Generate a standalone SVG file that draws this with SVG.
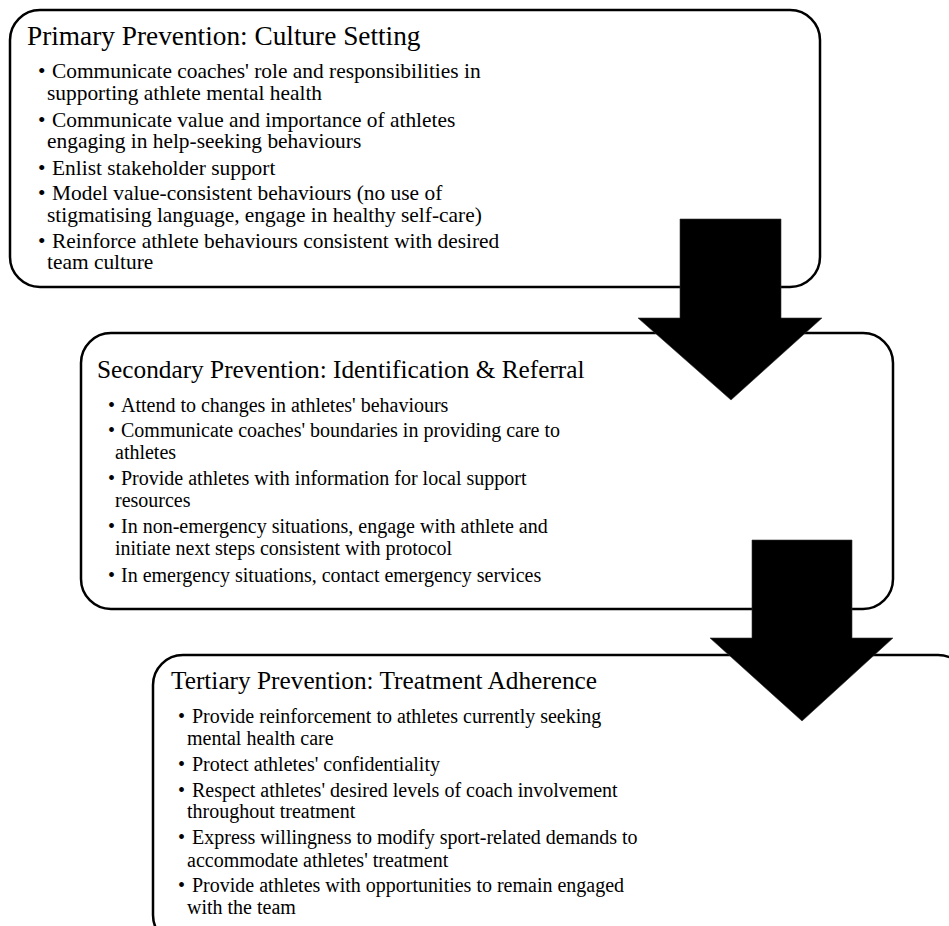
<svg xmlns="http://www.w3.org/2000/svg" width="949" height="926" viewBox="0 0 949 926">
<style>
.box{fill:#fff;stroke:#000;stroke-width:2.5}
.t{font-family:"Liberation Serif","Times New Roman",serif;fill:#000}
.h1{font-size:27.3px}
.b1{font-size:21.4px}
.h{font-size:25.3px}
.b{font-size:20px}
.arrow{fill:#000;stroke:#333;stroke-width:0.6}
</style>
<rect width="949" height="926" fill="#fff"/>
<g id="primary">
<rect class="box" x="10" y="10" width="810" height="277" rx="30" ry="30"/>
<text class="t h1" x="27" y="45">Primary Prevention: Culture Setting</text>
<g class="t b1">
<text x="38" y="78">•</text><text x="52" y="78">Communicate coaches' role and responsibilities in</text>
<text x="47" y="100">supporting athlete mental health</text>
<text x="38" y="127">•</text><text x="52" y="127">Communicate value and importance of athletes</text>
<text x="47" y="148">engaging in help-seeking behaviours</text>
<text x="38" y="175">•</text><text x="52" y="175">Enlist stakeholder support</text>
<text x="38" y="200">•</text><text x="52" y="200">Model value-consistent behaviours (no use of</text>
<text x="47" y="222">stigmatising language, engage in healthy self-care)</text>
<text x="38" y="248">•</text><text x="52" y="248">Reinforce athlete behaviours consistent with desired</text>
<text x="47" y="269">team culture</text>
</g>
</g>
<g id="secondary">
<rect class="box" x="81" y="333" width="812" height="276" rx="30" ry="30"/>
<text class="t h" x="97" y="378">Secondary Prevention: Identification &amp; Referral</text>
<g class="t b">
<text x="108" y="412">•</text><text x="121" y="412">Attend to changes in athletes' behaviours</text>
<text x="108" y="437">•</text><text x="121" y="437">Communicate coaches' boundaries in providing care to</text>
<text x="115" y="459">athletes</text>
<text x="108" y="485">•</text><text x="121" y="485">Provide athletes with information for local support</text>
<text x="115" y="507">resources</text>
<text x="108" y="533">•</text><text x="121" y="533">In non-emergency situations, engage with athlete and</text>
<text x="115" y="555">initiate next steps consistent with protocol</text>
<text x="108" y="582">•</text><text x="121" y="582">In emergency situations, contact emergency services</text>
</g>
</g>
<g id="tertiary">
<rect class="box" x="153" y="655" width="815" height="290" rx="30" ry="30"/>
<text class="t h" x="171" y="689">Tertiary Prevention: Treatment Adherence</text>
<g class="t b">
<text x="178" y="723">•</text><text x="192" y="723">Provide reinforcement to athletes currently seeking</text>
<text x="187" y="745">mental health care</text>
<text x="178" y="771">•</text><text x="192" y="771">Protect athletes' confidentiality</text>
<text x="178" y="797">•</text><text x="192" y="797">Respect athletes' desired levels of coach involvement</text>
<text x="187" y="818">throughout treatment</text>
<text x="178" y="844">•</text><text x="192" y="844">Express willingness to modify sport-related demands to</text>
<text x="187" y="867">accommodate athletes' treatment</text>
<text x="178" y="892">•</text><text x="192" y="892">Provide athletes with opportunities to remain engaged</text>
<text x="187" y="914">with the team</text>
</g>
</g>
<g id="connectors">
<polygon class="arrow" points="680,219 781,219 781,318 822,318 731,400 638,318 680,318"/>
<polygon class="arrow" points="752,540 852,540 852,638 893,638 802,721 710,638 752,638"/>
</g>
</svg>
